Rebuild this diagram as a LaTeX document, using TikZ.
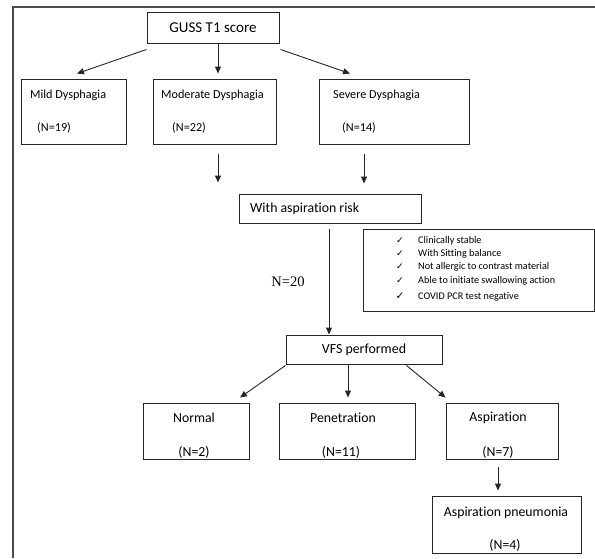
\documentclass[tikz,border=0pt]{standalone}
\usepackage{fontspec}
\setmainfont{Carlito}[Ligatures={NoCommon}]
\newfontfamily\serifnum{Liberation Serif}
\newfontfamily\dejavu{DejaVu Sans}
\usetikzlibrary{arrows.meta,calc}
\tikzset{
  box/.style={draw=black!85, line width=0.9pt, rectangle, inner sep=0pt},
  arr/.style={draw=black!85, line width=0.9pt, -{Triangle[length=7pt,width=6pt]}},
  lbl/.style={inner sep=0pt, font=\fontsize{12.2}{14}\selectfont},
  lblb/.style={inner sep=0pt, font=\fontsize{13.8}{16}\selectfont},
  chk/.style={inner sep=0pt, font=\dejavu\fontsize{9}{10}\selectfont},
  item/.style={inner sep=0pt, anchor=west, font=\fontsize{10.2}{11}\selectfont},
}
\begin{document}
\begin{tikzpicture}[x=1pt,y=-1pt]
\useasboundingbox (0,0) rectangle (595,558);
\draw[black!70, line width=1.5pt] (13,558) -- (13,7) -- (595,7);

% top level
\node[box, minimum width=132pt, minimum height=31pt, font=\fontsize{15}{17}\selectfont] (guss) at (213,27.5) {GUSS T1 score};
\node[box, minimum width=105pt, minimum height=65pt] (mild) at (73.5,111.5) {};
\node[box, minimum width=123pt, minimum height=65pt] (moderate) at (214.5,111.5) {};
\node[box, minimum width=150pt, minimum height=65pt] (severe) at (394,111.5) {};

\node[lbl, anchor=west] (mildt) at (30,95) {Mild Dysphagia};
\node[lbl, anchor=west] (mildn) at (37,128) {(N=19)};
\node[lbl, anchor=west] (modt) at (161,95) {Moderate Dysphagia};
\node[lbl, anchor=west] (modn) at (172,128) {(N=22)};
\node[lbl, anchor=west] (sevt) at (333,95) {Severe Dysphagia};
\node[lbl, anchor=west] (sevn) at (342,128) {(N=14)};

\draw[arr] ($(guss.south west)+(0,6)$) -- ($(mild.north)+(3.5,-5)$);
\draw[arr] ($(guss.south)+(5,0)$) -- ($(guss.south |- moderate.north)+(5,-5)$);
\draw[arr] ($(guss.south east)+(1,6)$) -- ($(severe.north)+(-44,-5)$);

% aspiration risk
\node[box, minimum width=182pt, minimum height=29pt] (risk) at (330,208.5) {};
\node[lblb, anchor=west] (riskt) at (250,209) {With aspiration risk};

\draw[arr] ($(moderate.south)+(3.5,10)$) -- ($(moderate.south |- risk.north)+(3.5,-11)$);
\draw[arr] ($(severe.south)+(-30,10)$) -- ($(severe.south |- risk.north)+(-30,-10)$);

% checklist
\node[box, minimum width=231pt, minimum height=82pt] (crit) at (478.5,270) {};
\node[chk] (c1) at (400,241) {✓};
\node[chk] (c2) at (400,254) {✓};
\node[chk] (c3) at (400,267) {✓};
\node[chk] (c4) at (400,281) {✓};
\node[chk, font=\dejavu\fontsize{10.5}{11}\selectfont] (c5) at (400,296.5) {✓};
\node[item] (t1) at (418,241) {Clinically stable};
\node[item] (t2) at (418,254) {With Sitting balance};
\node[item] (t3) at (418,267) {Not allergic to contrast material};
\node[item] (t4) at (418,281) {Able to initiate swallowing action};
\node[item] (t5) at (418,297) {COVID PCR test negative};

% VFS
\node[box, minimum width=156pt, minimum height=29pt, font=\fontsize{13.9}{16}\selectfont] (vfs) at (364,349.5) {VFS performed};
\draw[arr] ($(risk.south)+(-1,6)$) -- ($(risk.south |- vfs.north)+(-1,0)$);
\node[inner sep=0pt, font=\serifnum\fontsize{14.5}{16}\selectfont] (n20) at (288,282) {N=20};

\node[box, minimum width=106pt, minimum height=56pt] (normal) at (196,431) {};
\node[box, minimum width=136pt, minimum height=56pt] (pen) at (347,431) {};
\node[box, minimum width=112pt, minimum height=56pt] (asp) at (502,431) {};
\node[lblb] (normt) at (194,418) {Normal};
\node[lblb] (normn) at (194,452) {(N=2)};
\node[lblb] (pent) at (343,418) {Penetration};
\node[lblb] (penn) at (341,452) {(N=11)};
\node[lblb] (aspt) at (498,418) {Aspiration};
\node[lblb] (aspn) at (498,452) {(N=7)};

\draw[arr] ($(vfs.south west)+(0,1)$) -- ($(normal.north)+(44,-5)$);
\draw[arr] ($(vfs.south)+(-16,1)$) -- ($(vfs.south |- pen.north)+(-16,-5)$);
\draw[arr] ($(vfs.south east)+(-36,1)$) -- ($(asp.north west)+(0,-5)$);

\node[box, minimum width=149pt, minimum height=57pt] (pneu) at (506.5,524.5) {};
\node[lblb] (pneut) at (506,513) {Aspiration pneumonia};
\node[lblb] (pneun) at (505,545) {(N=4)};
\draw[arr] ($(asp.south)+(-4,8)$) -- ($(asp.south |- pneu.north)+(-4,-5)$);
\end{tikzpicture}
\end{document}
